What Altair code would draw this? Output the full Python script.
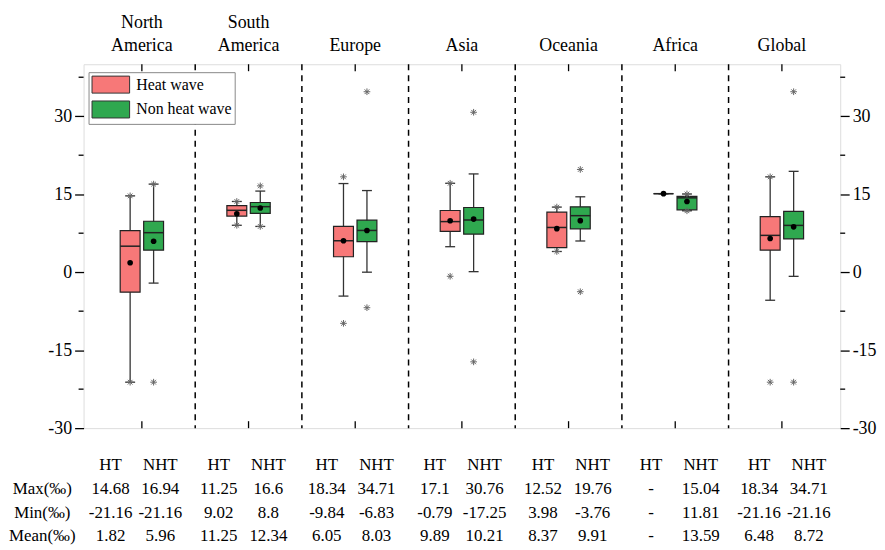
import altair as alt
import pandas as pd

SERIF = "Liberation Serif"
RED = "#F77878"
GREEN = "#2FA84F"

groups = ["North America", "South America", "Europe", "Asia", "Oceania", "Africa", "Global"]
name_line1 = ["North", "South", "", "", "", "", ""]
name_line2 = ["America", "America", "Europe", "Asia", "Oceania", "Africa", "Global"]
types = ["Heat wave", "Non heat wave"]

# box statistics
ht_q1 = [-3.85, 10.8, 2.97, 7.84, 4.73, 15.1, 4.24]
ht_med = [5.0, 11.9, 6.06, 9.73, 8.6, 15.1, 7.08]
ht_q3 = [8.0, 12.8, 8.8, 11.87, 11.55, 15.1, 10.7]
ht_lo = [-21.16, 9.02, -4.6, 4.9, 3.98, 15.1, -5.4]
ht_hi = [14.68, 13.6, 17.05, 17.1, 12.52, 15.1, 18.34]
ht_mean = [1.82, 11.25, 6.05, 9.89, 8.37, 15.1, 6.48]

nht_q1 = [4.24, 11.3, 5.87, 7.33, 8.33, 12.0, 6.4]
nht_med = [7.6, 12.6, 8.03, 10.04, 10.87, 14.3, 9.0]
nht_q3 = [9.8, 13.4, 10.0, 12.44, 12.58, 14.6, 11.7]
nht_lo = [-2.1, 8.8, 0.0, 0.1, 6.0, 11.81, -0.8]
nht_hi = [16.94, 15.6, 15.7, 18.9, 14.5, 15.04, 19.4]
nht_mean = [5.96, 12.34, 8.03, 10.21, 9.91, 13.59, 8.72]

# asterisk markers (max / min)
ht_marks = [[14.68, -21.16], [13.6, 9.02], [18.34, -9.84], [17.1, -0.79], [12.52, 3.98], [], [18.34, -21.16]]
nht_marks = [[16.94, -21.16], [16.6, 8.8], [34.71, -6.83], [30.76, -17.25], [19.76, -3.76], [15.04, 11.81], [34.71, -21.16]]

# table below the chart
col_heads = ["HT", "NHT"]
row_labels = ["", "Max(‰)", "Min(‰)", "Mean(‰)"]
tab_max = ["14.68", "16.94", "11.25", "16.6", "18.34", "34.71", "17.1", "30.76", "12.52", "19.76", "-", "15.04", "18.34", "34.71"]
tab_min = ["-21.16", "-21.16", "9.02", "8.8", "-9.84", "-6.83", "-0.79", "-17.25", "3.98", "-3.76", "-", "11.81", "-21.16", "-21.16"]
tab_mean = ["1.82", "5.96", "11.25", "12.34", "6.05", "8.03", "9.89", "10.21", "8.37", "9.91", "-", "13.59", "6.48", "8.72"]

W, H = 761, 366
BOX_OFF = 0.11
COL_OFF = [-0.25, 0.21]

rows = []
stars = []
for i in range(len(groups)):
    c = i + 0.5
    for t, (q1, md, q3, lo, hi, mn, mk), off in [
        (types[0], (ht_q1, ht_med, ht_q3, ht_lo, ht_hi, ht_mean, ht_marks), -BOX_OFF),
        (types[1], (nht_q1, nht_med, nht_q3, nht_lo, nht_hi, nht_mean, nht_marks), BOX_OFF),
    ]:
        rows.append(dict(pos=c + off, q1=q1[i], med=md[i], q3=q3[i], lo=lo[i], hi=hi[i], mean=mn[i], type=t))
        for v in mk[i]:
            stars.append(dict(pos=c + off, v=v))
box_df = pd.DataFrame(rows)
star_df = pd.DataFrame(stars)
sep_df = pd.DataFrame({"x": [i for i in range(1, len(groups))]})
ctr_df = pd.DataFrame({"x": [i + 0.5 for i in range(len(groups))],
                       "l1": name_line1, "l2": name_line2})
minor_df = pd.DataFrame({"y": [-22.5, -7.5, 7.5, 22.5, 37.5]})

tab = []
for i in range(len(groups)):
    for k in range(2):
        x = i + 0.5 + COL_OFF[k]
        j = 2 * i + k
        tab.append(dict(x=x, row=row_labels[0], val=col_heads[k]))
        tab.append(dict(x=x, row=row_labels[1], val=tab_max[j]))
        tab.append(dict(x=x, row=row_labels[2], val=tab_min[j]))
        tab.append(dict(x=x, row=row_labels[3], val=tab_mean[j]))
tab_df = pd.DataFrame(tab)

xscale = alt.Scale(domain=[0, len(groups)], nice=False, zero=False)
yscale = alt.Scale(domain=[-30, 40], nice=False, zero=False)


def yaxis(orient):
    return alt.Axis(orient=orient, values=[-30, -15, 0, 15, 30], tickSize=9, tickWidth=1.3,
                    tickColor="black", labelPadding=3, labelFont=SERIF, labelFontSize=18,
                    labelExpr="'' + datum.value",
                    labelColor="black", grid=False, domain=False, title=None)


XN = lambda f: alt.X(f, scale=xscale, axis=None)
YN = lambda f: alt.Y(f, scale=yscale, axis=None)

seps = alt.Chart(sep_df).mark_rule(color="black", strokeWidth=1.5, strokeDash=[6, 5]).encode(x=XN("x:Q"))
top_ticks = alt.Chart(ctr_df).mark_rule(color="black", strokeWidth=1.3).encode(
    x=XN("x:Q"), y=alt.value(0), y2=alt.value(7))
bot_ticks = alt.Chart(ctr_df).mark_rule(color="black", strokeWidth=1.3).encode(
    x=XN("x:Q"), y=alt.value(H - 7), y2=alt.value(H))
name1 = alt.Chart(ctr_df).mark_text(font=SERIF, fontSize=18, color="black", baseline="alphabetic").encode(
    x=XN("x:Q"), y=alt.value(-36), text="l1:N")
name2 = alt.Chart(ctr_df).mark_text(font=SERIF, fontSize=18, color="black", baseline="alphabetic").encode(
    x=XN("x:Q"), y=alt.value(-13), text="l2:N")
minor_l = alt.Chart(minor_df).mark_rule(color="black", strokeWidth=1.3).encode(
    y=YN("y:Q"), x=alt.value(-5), x2=alt.value(0))
minor_r = alt.Chart(minor_df).mark_rule(color="black", strokeWidth=1.3).encode(
    y=YN("y:Q"), x=alt.value(W), x2=alt.value(W + 5))

whisk = alt.Chart(box_df).mark_rule(color="#333333", strokeWidth=1.3).encode(
    x=XN("pos:Q"), y=alt.Y("lo:Q", scale=yscale, axis=yaxis("right")), y2="hi:Q")
cap_lo = alt.Chart(box_df).mark_tick(orient="horizontal", size=10, thickness=1.3, color="#333333", opacity=1).encode(
    x=XN("pos:Q"), y=YN("lo:Q"))
cap_hi = alt.Chart(box_df).mark_tick(orient="horizontal", size=10, thickness=1.3, color="#333333", opacity=1).encode(
    x=XN("pos:Q"), y=YN("hi:Q"))

legend_sym = "M-1,-0.95L3.2,-0.95L3.2,0.95L-1,0.95Z"
box = alt.Chart(box_df).mark_bar(size=20, stroke="#222222", strokeWidth=1.2, opacity=1).encode(
    x=XN("pos:Q"),
    y=alt.Y("q1:Q", scale=yscale, axis=yaxis("left")),
    y2="q3:Q",
    fill=alt.Fill("type:N", scale=alt.Scale(domain=types, range=[RED, GREEN]),
                  legend=alt.Legend(title=None, orient="none", legendX=5, legendY=8,
                                    symbolType=legend_sym, symbolSize=324, symbolOpacity=1,
                                    symbolStrokeColor="#333333", symbolStrokeWidth=1,
                                    labelFont=SERIF, labelFontSize=16, labelColor="black",
                                    labelOffset=26, rowPadding=2, padding=3,
                                    strokeColor="#888888", fillColor="white")))
med = alt.Chart(box_df).mark_tick(orient="horizontal", size=20, thickness=1.5, color="#222222", opacity=1).encode(
    x=XN("pos:Q"), y=YN("med:Q"))
mean = alt.Chart(box_df).mark_circle(size=32, color="black", opacity=1).encode(
    x=XN("pos:Q"), y=YN("mean:Q"))
star_path = "M-1,0L1,0M0,-1L0,1M-0.7,-0.7L0.7,0.7M-0.7,0.7L0.7,-0.7"
star = alt.Chart(star_df).mark_point(shape=star_path, size=45, filled=False, stroke="#666666",
                                     strokeWidth=1, opacity=1).encode(
    x=XN("pos:Q"), y=YN("v:Q"))

box_chart = alt.layer(seps, top_ticks, bot_ticks, name1, name2, minor_l, minor_r, whisk, cap_lo, cap_hi,
                      box, med, mean, star).resolve_axis(x="independent", y="independent").properties(
    width=W, height=H)

table = alt.Chart(tab_df).mark_text(font=SERIF, fontSize=17, color="black").encode(
    x=alt.X("x:Q", scale=xscale, axis=None),
    y=alt.Y("row:N", sort=row_labels,
            scale=alt.Scale(domain=row_labels, type="band", paddingInner=0, paddingOuter=0),
            axis=alt.Axis(title=None, ticks=False, domain=False, labelAlign="center", labelPadding=42,
                          labelFont=SERIF, labelFontSize=17, labelColor="black")),
    text="val:N").properties(width=W, height=4 * 24, view=alt.ViewBackground(strokeOpacity=0))

chart = alt.vconcat(box_chart, table, spacing=15).properties(
    padding={"left": 0, "right": 0, "top": 4, "bottom": 0}
).configure_view(stroke="black", strokeWidth=1.5).configure(font=SERIF)

chart.save("out.html", embed_options={"renderer": "svg", "actions": False})
